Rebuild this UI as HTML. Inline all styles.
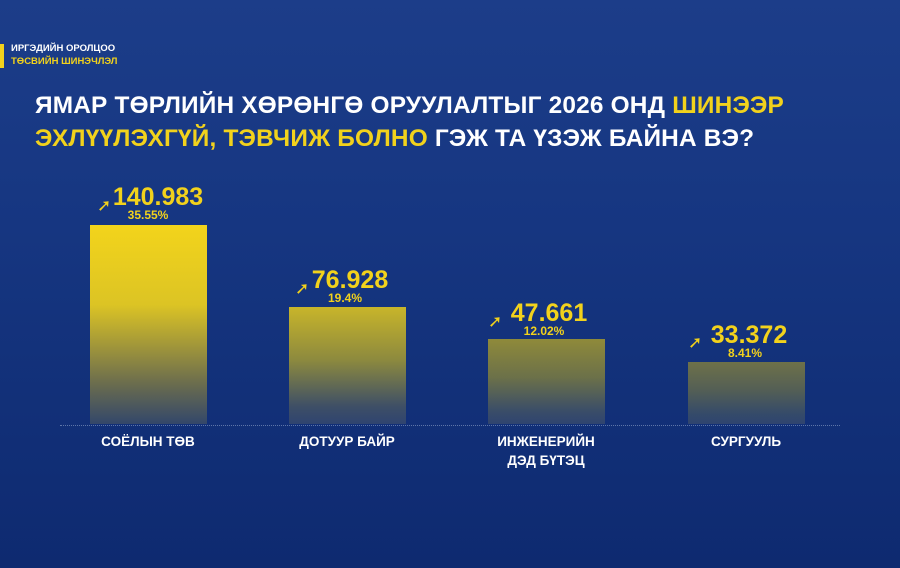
<!DOCTYPE html>
<html><head><meta charset="utf-8"><style>
body{margin:0}
#c{position:relative;width:900px;height:568px;overflow:hidden;background:linear-gradient(180deg,#1c3d89 0%,#163681 40%,#0e2a70 100%);font-family:"Liberation Sans","DejaVu Sans",sans-serif;font-weight:bold}
.a{position:absolute;white-space:nowrap}
.bar{position:absolute;width:117px}
.v{position:absolute;color:#f2d21c;font-size:25px;text-align:center;width:160px}
.p{position:absolute;color:#f2d21c;font-size:12px;text-align:center;width:160px}
.l{position:absolute;color:#fff;font-size:13.5px;text-align:center;width:160px;line-height:19px}
.ar{position:absolute;color:#f2d21c;font-size:17px}
</style></head><body><div id="c">
<div class="a" style="left:0;top:44px;width:4px;height:24px;background:#f2d21c"></div>
<div class="a" style="left:11px;top:43px;color:#fff;font-size:9.5px">ИРГЭДИЙН ОРОЛЦОО</div>
<div class="a" style="left:11px;top:56px;color:#f2d21c;font-size:9.5px">ТӨСВИЙН ШИНЭЧЛЭЛ</div>
<div class="a" style="left:35px;top:89px;color:#fff;font-size:24.4px;letter-spacing:0.2px;line-height:33px">ЯМАР ТӨРЛИЙН ХӨРӨНГӨ ОРУУЛАЛТЫГ 2026 ОНД <span style="color:#f2d21c">ШИНЭЭР</span><br><span style="color:#f2d21c">ЭХЛҮҮЛЭХГҮЙ, ТЭВЧИЖ БОЛНО</span> ГЭЖ ТА ҮЗЭЖ БАЙНА ВЭ?</div>
<div class="bar" style="left:90px;top:225px;height:199px;background:linear-gradient(180deg,#f3d41b 0%,#dcc424 40%,#6a6c4e 80%,#33476a 100%)"></div>
<div class="bar" style="left:289px;top:307px;height:117px;background:linear-gradient(180deg,#c8b52a 0%,#8d8a3e 45%,#3e4f66 85%,#2f4470 100%)"></div>
<div class="bar" style="left:488px;top:339px;height:85px;background:linear-gradient(180deg,#8f8a3a 0%,#6c7149 45%,#3a4d68 85%,#2f4470 100%)"></div>
<div class="bar" style="left:688px;top:362px;height:62px;background:linear-gradient(180deg,#6e7149 0%,#545f55 45%,#344a6a 85%,#2f4470 100%)"></div>
<div class="a" style="left:60px;top:425px;width:780px;border-top:1px dotted #5e76a8"></div>
<div class="v" style="left:78px;top:183px">140.983</div><div class="p" style="left:68px;top:208px">35.55%</div><div class="ar" style="left:97px;top:196px">➚</div>
<div class="v" style="left:270px;top:266px">76.928</div><div class="p" style="left:265px;top:291px">19.4%</div><div class="ar" style="left:295px;top:279px">➚</div>
<div class="v" style="left:469px;top:299px">47.661</div><div class="p" style="left:464px;top:324px">12.02%</div><div class="ar" style="left:488px;top:312px">➚</div>
<div class="v" style="left:669px;top:321px">33.372</div><div class="p" style="left:665px;top:346px">8.41%</div><div class="ar" style="left:688px;top:333px">➚</div>
<div class="l" style="left:68px;top:432px">СОЁЛЫН ТӨВ</div>
<div class="l" style="left:267px;top:432px">ДОТУУР БАЙР</div>
<div class="l" style="left:466px;top:432px">ИНЖЕНЕРИЙН<br>ДЭД БҮТЭЦ</div>
<div class="l" style="left:666px;top:432px">СУРГУУЛЬ</div>
</div></body></html>
